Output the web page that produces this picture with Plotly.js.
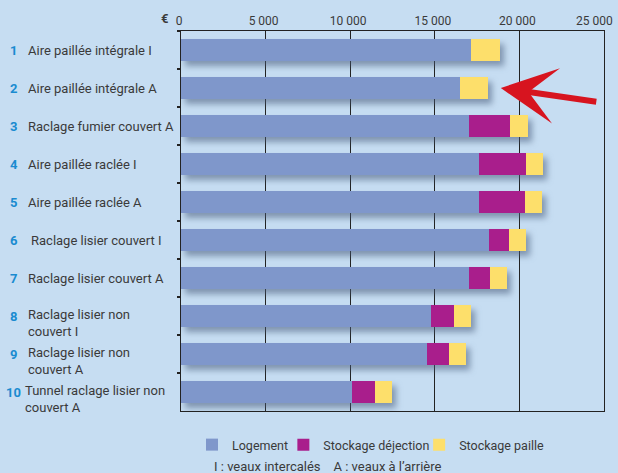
<!DOCTYPE html>
<html>
<head>
<meta charset="utf-8">
<script src="https://cdn.plot.ly/plotly-3.0.1.min.js"></script>
<style>
  html, body { margin: 0; padding: 0; background: #c6ddf2; }
  #chart { width: 618px; height: 473px; }
  .barlayer { filter: drop-shadow(4px 5px 3px rgba(70, 90, 120, 0.55)); }
</style>
</head>
<body>
<div id="chart"></div>
<script>
// ---- data ----
const nums = ['1', '2', '3', '4', '5', '6', '7', '8', '9', '10'];
const labels = [
  'Aire paillée intégrale I',
  'Aire paillée intégrale A',
  'Raclage fumier couvert A',
  'Aire paillée raclée I',
  'Aire paillée raclée A',
  'Raclage lisier couvert I',
  'Raclage lisier couvert A',
  'Raclage lisier non<br>couvert I',
  'Raclage lisier non<br>couvert A',
  'Tunnel raclage lisier non<br>couvert A'
];
const logement  = [17130, 16460, 17010, 17640, 17600, 18210, 17050, 14770, 14530, 10100];
const dejection = [0, 0, 2420, 2740, 2740, 1180, 1220, 1335, 1320, 1340];
const paille    = [1695, 1655, 1105, 1000, 1000, 1005, 985, 1005, 1000, 1005];
const seriesNames = ['Logement', 'Stockage déjection', 'Stockage paille'];
const xTicks = [0, 5000, 10000, 15000, 20000, 25000];
const xTickLabels = ['0', '5 000', '10 000', '15 000', '20 000', '25 000'];
const currency = '€';
const footnote = 'I : veaux intercalés&nbsp;&nbsp;&nbsp;&nbsp;A : veaux à l’arrière';

// ---- styles ----
const colors = ['#7f97cb', '#a91e8c', '#fddf6b'];
const txt = '#3a3a3a';
const blueNum = '#1a8bd0';
const font = 'Roboto, "Open Sans", sans-serif';

const cats = labels.map((l, i) => nums[i] + ' ' + l);
const legendIds = ['legend', 'legend2', 'legend3'];
const legendX = [0.026, 0.242, 0.563];
const lastTick = xTicks.length - 1;

const traces = [logement, dejection, paille].map((vals, i) => ({
  type: 'bar',
  orientation: 'h',
  name: seriesNames[i],
  legend: legendIds[i],
  x: vals,
  y: cats,
  width: 0.57,
  marker: { color: colors[i], line: { width: 0 } },
  hoverinfo: 'x+name'
}));

const annotations = [];
nums.forEach((n, i) => {
  const multi = labels[i].indexOf('<br>') >= 0;
  annotations.push({
    xref: 'paper', yref: 'y', x: 0, y: i,
    xshift: -167.5, xanchor: 'center', yanchor: 'middle',
    text: '<b>' + n + '</b>', showarrow: false,
    font: { family: font, size: 13, color: blueNum }
  });
  annotations.push({
    xref: 'paper', yref: 'y', x: 0, y: i,
    xshift: (n === '10' ? -158 : (n === '6' ? -152 : -155)),
    xanchor: 'left', yanchor: multi ? 'top' : 'middle', align: 'left',
    yshift: multi ? 11 : 0,
    text: labels[i], showarrow: false,
    font: { family: font, size: 13, color: txt }
  });
});
// last x tick label, kept inside the page edge
annotations.push({
  xref: 'x', yref: 'paper', x: xTicks[lastTick], y: 1, xshift: 11, yshift: 10,
  xanchor: 'right', yanchor: 'middle', text: xTickLabels[lastTick],
  showarrow: false, font: { family: font, size: 12, color: txt }
});
annotations.push({
  xref: 'paper', yref: 'paper', x: 0, y: 1, xshift: -17, yshift: 13,
  xanchor: 'center', yanchor: 'middle', text: '<b>' + currency + '</b>',
  showarrow: false, font: { family: font, size: 13, color: txt }
});
annotations.push({
  xref: 'paper', yref: 'paper', x: 0, y: 0, xshift: 31, yshift: -55,
  xanchor: 'left', yanchor: 'middle', text: footnote,
  showarrow: false, font: { family: font, size: 13, color: txt }
});
// red arrow pointing at row 2
annotations.push({
  xref: 'x', yref: 'y', x: 18900, y: 1, text: '',
  showarrow: true, arrowhead: 3, arrowwidth: 6, arrowsize: 1.55,
  arrowcolor: '#d7141f', ax: 97, ay: 14, standoff: 0
});

const legendBase = {
  orientation: 'h', y: -0.05, xanchor: 'left', yanchor: 'top',
  itemwidth: 30, itemclick: false,
  font: { family: font, size: 12.5, color: txt }, bgcolor: 'rgba(0,0,0,0)'
};

const layout = {
  width: 618, height: 473,
  paper_bgcolor: '#c6ddf2', plot_bgcolor: '#c6ddf2',
  margin: { l: 181, r: 14, t: 31, b: 62 },
  barmode: 'stack',
  separators: ', ',
  font: { family: font, size: 12, color: txt },
  xaxis: {
    side: 'top', range: [0, 25000], tickvals: xTicks,
    ticktext: xTickLabels.map((t, i) => i === lastTick ? '' : t),
    ticklabelshift: -2,
    showgrid: true, gridcolor: '#222', gridwidth: 1, zeroline: false,
    showline: true, linecolor: '#222', linewidth: 1, mirror: true,
    ticks: '', tickfont: { family: font, size: 12, color: txt }, fixedrange: true
  },
  yaxis: {
    type: 'category', autorange: false, range: [9.5, -0.5],
    showticklabels: false, ticks: 'outside', ticklen: 3, tickwidth: 2,
    tickcolor: '#222', tickson: 'boundaries', showgrid: false,
    showline: true, linecolor: '#222', linewidth: 1, mirror: true, fixedrange: true
  },
  showlegend: true,
  legend: Object.assign({}, legendBase, { x: legendX[0] }),
  legend2: Object.assign({}, legendBase, { x: legendX[1] }),
  legend3: Object.assign({}, legendBase, { x: legendX[2] }),
  annotations: annotations
};

Plotly.newPlot('chart', traces, layout, { displayModeBar: false, staticPlot: true });
</script>
</body>
</html>
